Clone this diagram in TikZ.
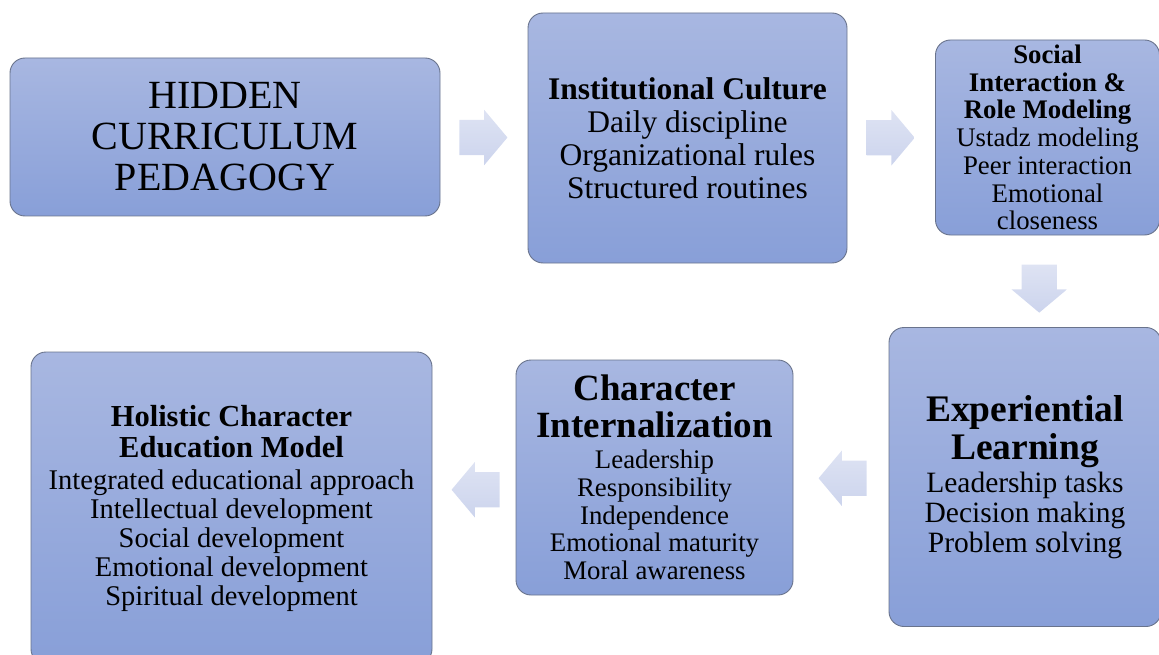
\documentclass[tikz,border=0pt]{standalone}
\usepackage{fontspec}
\setmainfont{Liberation Serif}
\usetikzlibrary{shapes.arrows,calc}
\definecolor{boxtop}{RGB}{168,183,225}
\definecolor{boxbot}{RGB}{136,159,216}
\definecolor{boxline}{RGB}{105,115,140}
\definecolor{arrtop}{RGB}{222,227,243}
\definecolor{arrbot}{RGB}{204,212,237}
\tikzset{
	stagebox/.style={rectangle, rounded corners=15pt, draw=boxline, line width=0.9pt,
		top color=boxtop, bottom color=boxbot, inner sep=0pt, align=flush center, text=black},
	flowarrow/.style={single arrow, draw=none, top color=arrtop, bottom color=arrbot,
		minimum height=48pt, inner xsep=12pt, inner ysep=17.5pt, single arrow head extend=10pt,
		single arrow tip angle=100}
}
\newcommand{\fs}[2]{\fontsize{#1}{#2}\selectfont}
\begin{document}
\begin{tikzpicture}[x=1pt,y=1pt]
			%%%%% START %%%%%
			\useasboundingbox (0,0) rectangle (1159,-655);
			\clip (0,0) rectangle (1159,-655);
			
			\node[stagebox, minimum width=430pt, minimum height=158pt, text width=420pt, font=\fs{40}{41}] (hcp) at (225,-137)
				{HIDDEN\\CURRICULUM\\PEDAGOGY\par};
			
			\node[stagebox, minimum width=319pt, minimum height=250pt, text width=315pt, font=\fs{31.5}{33}] (ic) at (687.5,-138)
				{\textbf{Institutional Culture}\\Daily discipline\\Organizational rules\\Structured routines\par};
			
			\node[stagebox, minimum width=224pt, minimum height=195pt, text width=222pt, font=\fs{26.8}{27.7}] (si) at (1047.5,-137.5)
				{\textbf{Social\\Interaction \&\\Role Modeling}\\Ustadz modeling\\Peer interaction\\Emotional\\closeness\par};
			
			\node[stagebox, minimum width=272pt, minimum height=299pt, text width=268pt, font=\fs{29.5}{30}] (el) at (1025,-477)
				{\fs{37.5}{38}\textbf{Experiential\\Learning}\par\vspace{3pt}\fs{29.5}{30}Leadership tasks\\Decision making\\Problem solving\par};
			
			\node[stagebox, minimum width=277pt, minimum height=235pt, text width=272pt, font=\fs{26.8}{27.8}] (ci) at (654.5,-477.5)
				{\fs{37}{37}\textbf{Character\\Internalization}\par\vspace{3pt}\fs{26.8}{27.8}Leadership\\Responsibility\\Independence\\Emotional maturity\\Moral awareness\par};
			
			\node[stagebox, minimum width=401pt, minimum height=312pt, text width=396pt, font=\fs{28.5}{29}] (hm) at (231.5,-508)
				{\fs{30.5}{31}\textbf{Holistic Character\\Education Model}\par\vspace{3pt}\fs{28.5}{29}Integrated educational approach\\Intellectual development\\Social development\\Emotional development\\Spiritual development\par};
			
			% block arrows between the stages
			\node[flowarrow] (a1) at ($(hcp.east)!0.5!(ic.west)+(-8,0)$) {};
			\node[flowarrow] (a2) at ($(ic.east)!0.5!(si.west)+(-8,0)$) {};
			\node[flowarrow, rotate=-90] (a3) at ($(si.south)!0.5!(el.north)+(3,0)$) {};
			\node[flowarrow, rotate=180] (a4) at ($(el.west)!0.5!(ci.east)+(9,-1)$) {};
			\node[flowarrow, rotate=180] (a5) at ($(ci.west)!0.5!(hm.east)+(9,3)$) {};
			
			%%%%% END %%%%%
		\end{tikzpicture}
\end{document}
